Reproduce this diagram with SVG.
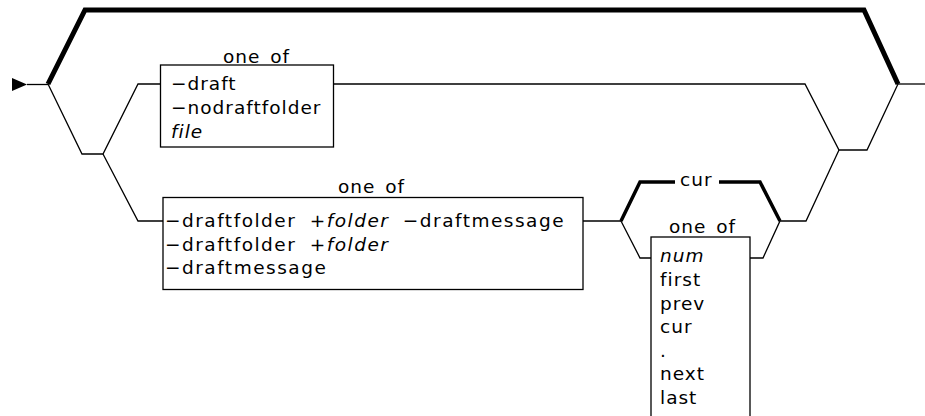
<svg xmlns="http://www.w3.org/2000/svg" width="925" height="416" viewBox="0 0 925 416">
<style>
  .thin { fill: none; stroke: #000; stroke-width: 1.3; stroke-linejoin: miter; }
  .thick { fill: none; stroke: #000; stroke-width: 5; stroke-linejoin: miter; }
  .mid { fill: none; stroke: #000; stroke-width: 3.5; stroke-linejoin: miter; }
  .box { fill: #fff; stroke: #000; stroke-width: 1.3; }
  text { font-family: "DejaVu Sans", "Liberation Sans", sans-serif; font-size: 18.5px; letter-spacing: 1px; word-spacing: 3px; fill: #000; }
  .wide { letter-spacing: 1.5px; word-spacing: 6px; }
  .it { font-style: italic; }
</style>
<rect width="925" height="416" fill="#fff"/>
<g id="connectors">
  <polygon points="12,78 27,84.5 12,91" fill="#000"/>
  <path class="thin" d="M27,84.5 H48"/>
  <path class="thick" d="M48,84 L85,10 H864 L898,84"/>
  <path class="thin" d="M898,84 H925"/>
  <path class="thin" d="M48,84 L82,154 H103 L138,84 H161"/>
  <path class="thin" d="M103,154 L138,221 H163"/>
  <path class="thin" d="M333,84 H805 L839,150 H867 L898,84"/>
  <path class="thin" d="M583,221 H621"/>
  <path class="mid" d="M621,221 L640,182 H675"/>
  <path class="mid" d="M719,182 H760 L780,221"/>
  <path class="thin" d="M621,221 L640,258 H651"/>
  <path class="thin" d="M750,258 H763 L780,221 H806 L839,150"/>
</g>
<g id="node-oneof-1">
  <text x="223" y="63">one of</text>
  <rect class="box" x="160.5" y="65" width="173" height="82"/>
  <text x="171" y="90">−draft</text>
  <text x="171" y="114">−nodraftfolder</text>
  <text x="171" y="138" class="it">file</text>
</g>
<g id="node-oneof-2">
  <text x="338" y="193">one of</text>
  <rect class="box" x="163" y="197.5" width="420" height="92"/>
  <text x="165" y="227" class="wide">−draftfolder +<tspan class="it">folder</tspan> −draftmessage</text>
  <text x="165" y="250.5" class="wide">−draftfolder +<tspan class="it">folder</tspan></text>
  <text x="165" y="274" class="wide">−draftmessage</text>
</g>
<g id="node-cur">
  <text x="680" y="186">cur</text>
</g>
<g id="node-oneof-3">
  <text x="669" y="233">one of</text>
  <rect class="box" x="651" y="237" width="99" height="200"/>
  <text x="660" y="262" class="it">num</text>
  <text x="660" y="286">first</text>
  <text x="660" y="310">prev</text>
  <text x="660" y="333">cur</text>
  <text x="660" y="357">.</text>
  <text x="660" y="380">next</text>
  <text x="660" y="404">last</text>
</g>
</svg>
